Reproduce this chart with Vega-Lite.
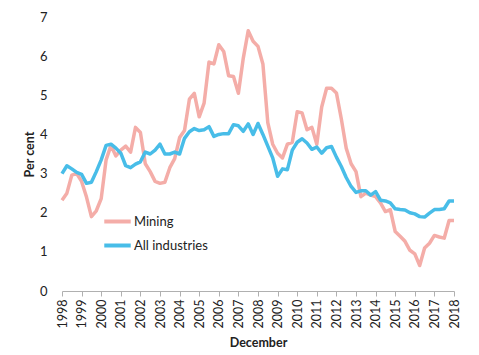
{
  "$schema": "https://vega.github.io/schema/vega-lite/v6.json",
  "width": 392,
  "height": 274,
  "autosize": {"type": "none"},
  "padding": {"left": 62, "top": 17, "right": 25, "bottom": 64},
  "background": "white",
  "config": {
    "view": {"stroke": null},
    "font": "Lato",
    "axis": {"labelFont": "Lato", "titleFont": "Lato", "labelColor": "#222", "titleColor": "#222", "grid": false}
  },
  "data": {
    "values": [
      {"t": 1998.00, "Mining": 2.32, "All industries": 3.00},
      {"t": 1998.25, "Mining": 2.50, "All industries": 3.20},
      {"t": 1998.50, "Mining": 2.96, "All industries": 3.12},
      {"t": 1998.75, "Mining": 3.00, "All industries": 3.03},
      {"t": 1999.00, "Mining": 2.80, "All industries": 2.98},
      {"t": 1999.25, "Mining": 2.40, "All industries": 2.75},
      {"t": 1999.50, "Mining": 1.90, "All industries": 2.78},
      {"t": 1999.75, "Mining": 2.05, "All industries": 3.05},
      {"t": 2000.00, "Mining": 2.36, "All industries": 3.35},
      {"t": 2000.25, "Mining": 3.35, "All industries": 3.72},
      {"t": 2000.50, "Mining": 3.72, "All industries": 3.75},
      {"t": 2000.75, "Mining": 3.45, "All industries": 3.65},
      {"t": 2001.00, "Mining": 3.60, "All industries": 3.52},
      {"t": 2001.25, "Mining": 3.70, "All industries": 3.20},
      {"t": 2001.50, "Mining": 3.55, "All industries": 3.15},
      {"t": 2001.75, "Mining": 4.18, "All industries": 3.24},
      {"t": 2002.00, "Mining": 4.05, "All industries": 3.30},
      {"t": 2002.25, "Mining": 3.25, "All industries": 3.55},
      {"t": 2002.50, "Mining": 3.05, "All industries": 3.50},
      {"t": 2002.75, "Mining": 2.80, "All industries": 3.60},
      {"t": 2003.00, "Mining": 2.75, "All industries": 3.75},
      {"t": 2003.25, "Mining": 2.78, "All industries": 3.50},
      {"t": 2003.50, "Mining": 3.15, "All industries": 3.50},
      {"t": 2003.75, "Mining": 3.38, "All industries": 3.55},
      {"t": 2004.00, "Mining": 3.92, "All industries": 3.50},
      {"t": 2004.25, "Mining": 4.10, "All industries": 3.90},
      {"t": 2004.50, "Mining": 4.90, "All industries": 4.07},
      {"t": 2004.75, "Mining": 5.05, "All industries": 4.15},
      {"t": 2005.00, "Mining": 4.45, "All industries": 4.10},
      {"t": 2005.25, "Mining": 4.80, "All industries": 4.12},
      {"t": 2005.50, "Mining": 5.85, "All industries": 4.20},
      {"t": 2005.75, "Mining": 5.80, "All industries": 3.95},
      {"t": 2006.00, "Mining": 6.29, "All industries": 4.00},
      {"t": 2006.25, "Mining": 6.12, "All industries": 4.02},
      {"t": 2006.50, "Mining": 5.50, "All industries": 4.02},
      {"t": 2006.75, "Mining": 5.48, "All industries": 4.25},
      {"t": 2007.00, "Mining": 5.05, "All industries": 4.22},
      {"t": 2007.25, "Mining": 5.95, "All industries": 4.08},
      {"t": 2007.50, "Mining": 6.65, "All industries": 4.27},
      {"t": 2007.75, "Mining": 6.38, "All industries": 4.00},
      {"t": 2008.00, "Mining": 6.25, "All industries": 4.28},
      {"t": 2008.25, "Mining": 5.80, "All industries": 4.00},
      {"t": 2008.50, "Mining": 4.30, "All industries": 3.70},
      {"t": 2008.75, "Mining": 3.75, "All industries": 3.40},
      {"t": 2009.00, "Mining": 3.52, "All industries": 2.93},
      {"t": 2009.25, "Mining": 3.40, "All industries": 3.12},
      {"t": 2009.50, "Mining": 3.75, "All industries": 3.10},
      {"t": 2009.75, "Mining": 3.80, "All industries": 3.60},
      {"t": 2010.00, "Mining": 4.58, "All industries": 3.80},
      {"t": 2010.25, "Mining": 4.55, "All industries": 3.89},
      {"t": 2010.50, "Mining": 4.12, "All industries": 3.78},
      {"t": 2010.75, "Mining": 4.18, "All industries": 3.62},
      {"t": 2011.00, "Mining": 3.75, "All industries": 3.68},
      {"t": 2011.25, "Mining": 4.70, "All industries": 3.52},
      {"t": 2011.50, "Mining": 5.18, "All industries": 3.66},
      {"t": 2011.75, "Mining": 5.18, "All industries": 3.69},
      {"t": 2012.00, "Mining": 5.06, "All industries": 3.42},
      {"t": 2012.25, "Mining": 4.40, "All industries": 3.18},
      {"t": 2012.50, "Mining": 3.65, "All industries": 2.90},
      {"t": 2012.75, "Mining": 3.25, "All industries": 2.67},
      {"t": 2013.00, "Mining": 3.05, "All industries": 2.52},
      {"t": 2013.25, "Mining": 2.41, "All industries": 2.56},
      {"t": 2013.50, "Mining": 2.50, "All industries": 2.56},
      {"t": 2013.75, "Mining": 2.45, "All industries": 2.45},
      {"t": 2014.00, "Mining": 2.41, "All industries": 2.54},
      {"t": 2014.25, "Mining": 2.25, "All industries": 2.32},
      {"t": 2014.50, "Mining": 2.03, "All industries": 2.30},
      {"t": 2014.75, "Mining": 2.08, "All industries": 2.25},
      {"t": 2015.00, "Mining": 1.52, "All industries": 2.10},
      {"t": 2015.25, "Mining": 1.40, "All industries": 2.08},
      {"t": 2015.50, "Mining": 1.27, "All industries": 2.07},
      {"t": 2015.75, "Mining": 1.04, "All industries": 2.00},
      {"t": 2016.00, "Mining": 0.95, "All industries": 1.97},
      {"t": 2016.25, "Mining": 0.65, "All industries": 1.90},
      {"t": 2016.50, "Mining": 1.10, "All industries": 1.89},
      {"t": 2016.75, "Mining": 1.22, "All industries": 1.99},
      {"t": 2017.00, "Mining": 1.42, "All industries": 2.08},
      {"t": 2017.25, "Mining": 1.38, "All industries": 2.08},
      {"t": 2017.50, "Mining": 1.35, "All industries": 2.10},
      {"t": 2017.75, "Mining": 1.80, "All industries": 2.30},
      {"t": 2018.00, "Mining": 1.80, "All industries": 2.30}
    ]
  },
  "transform": [{"fold": ["Mining", "All industries"], "as": ["series", "value"]}],
  "mark": {"type": "line", "strokeWidth": 3.5, "strokeJoin": "round"},
  "encoding": {
    "x": {
      "field": "t",
      "type": "quantitative",
      "scale": {"domain": [1998, 2018], "nice": false, "zero": false},
      "axis": {
        "title": "December",
        "titleFontSize": 12.5,
        "titleFontWeight": "bold",
        "titlePadding": 9,
        "values": [1998,1999,2000,2001,2002,2003,2004,2005,2006,2007,2008,2009,2010,2011,2012,2013,2014,2015,2016,2017,2018],
        "format": "d",
        "labelAngle": -90,
        "labelFontSize": 12.5,
        "labelPadding": 3,
        "domainColor": "#b0b0b0",
        "tickColor": "#b0b0b0",
        "tickSize": 5
      }
    },
    "y": {
      "field": "value",
      "type": "quantitative",
      "scale": {"domain": [0, 7], "nice": false},
      "axis": {
        "title": "Per cent",
        "titleFontSize": 12.5,
        "titleFontWeight": "bold",
        "titlePadding": 3,
        "values": [0,1,2,3,4,5,6,7],
        "labelFontSize": 13,
        "labelPadding": 15,
        "domain": false,
        "ticks": false
      }
    },
    "color": {
      "field": "series",
      "type": "nominal",
      "scale": {"domain": ["Mining", "All industries"], "range": ["#F4ADA8", "#48BDE8"]},
      "legend": {
        "title": null,
        "orient": "none",
        "legendX": 40,
        "legendY": 189,
        "symbolType": "stroke",
        "symbolSize": 700,
        "symbolStrokeWidth": 4,
        "labelFontSize": 13,
        "labelFont": "Lato",
        "labelColor": "#222",
        "labelOffset": 1,
        "rowPadding": 0
      }
    }
  }
}
